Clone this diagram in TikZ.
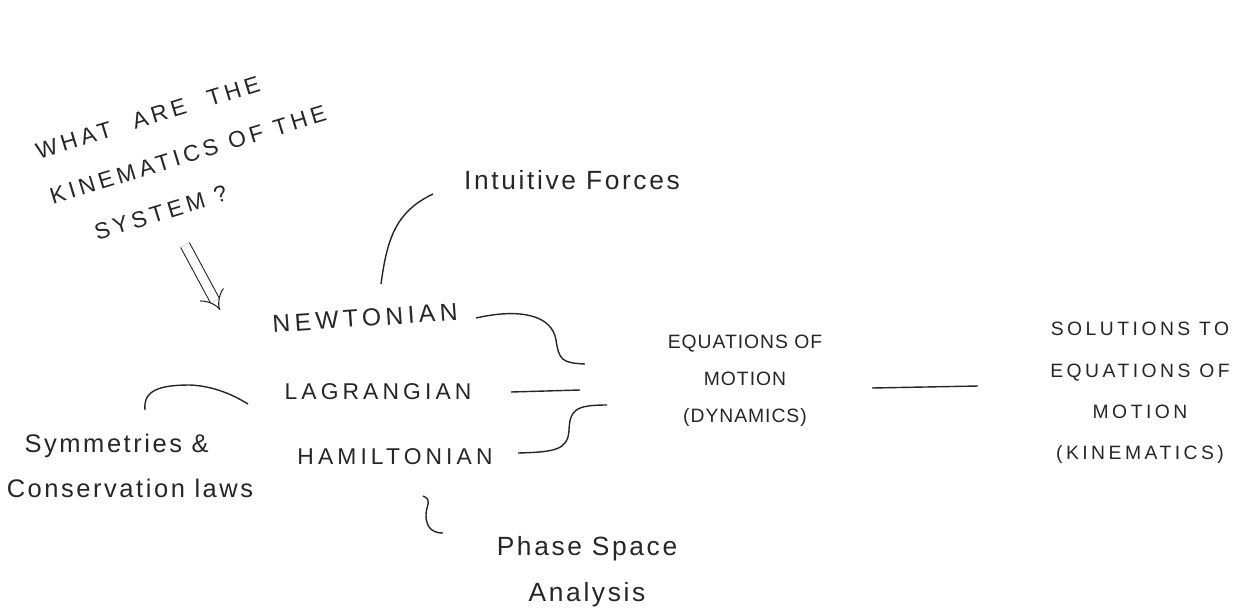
\documentclass[tikz,border=0pt]{standalone}
\usepackage{fontspec}
\setmainfont{Liberation Sans}
\newfontfamily\capsfont[LetterSpace=18]{Liberation Sans}
\newfontfamily\eqfont[LetterSpace=5]{Liberation Sans}
\newfontfamily\handfont[LetterSpace=10]{Liberation Sans}
\usetikzlibrary{arrows.meta}
\tikzset{%
  q/.style = {font=\capsfont\fontsize{13}{27}\selectfont, rotate=17,
        align=left, inner sep=1pt, text=black!85},
  m/.style = {font=\capsfont\fontsize{13}{15}\selectfont,
        inner sep=1pt, text=black!85},
  s/.style = {font=\eqfont\fontsize{11}{21}\selectfont, align=center,
        inner sep=1pt, text=black!85},
  h/.style = {font=\handfont\fontsize{15}{26}\selectfont,
        inner sep=1pt, text=black!85},
  link/.style = {line width=0.8pt, draw=black!85},
  impl/.style = {double, double distance=5pt, line width=0.6pt,
        draw=black!85, -{Implies[scale=1.4]}}
}
\begin{document}
\begin{tikzpicture}[x=0.02cm,y=-0.02cm]
    \useasboundingbox (0,0) rectangle (1252,609);
    % question
    \node[q] (q) at (188,155)
        {WHAT\hspace{1em}ARE\hspace{1em}THE\\KINEMATICS\hspace{0.5em}OF\hspace{0.5em}THE\\\hspace*{1.4em}SYSTEM ?};
    \coordinate (qa) at (185,245);
    \coordinate (qb) at (220,310);
    \draw[impl] (qa) -- (qb);
    % formulations
    \node[m, rotate=4, font=\capsfont\fontsize{14}{15}\selectfont] (newt)
        at (365,318) {NEWTONIAN};
    \node[m] (lagr) at (378,392) {LAGRANGIAN};
    \node[m] (hamil) at (395,457) {HAMILTONIAN};
    \node[s] (eom) at (745,381) {EQUATIONS OF\\MOTION\\(DYNAMICS)};
    \node[s, font=\capsfont\fontsize{11}{23.5}\selectfont] (sol) at (1140,393)
        {SOLUTIONS TO\\EQUATIONS OF\\MOTION\\(KINEMATICS)};
    % side notes
    \node[h] (forces) at (572,180) {Intuitive Forces};
    \node[h, align=left, font=\handfont\fontsize{14.5}{26}\selectfont] (sym)
        at (130,466) {\hspace*{0.7em}Symmetries \&\\Conservation laws};
    \node[h, align=center] (phase) at (587,572) {Phase Space\\Analysis};
    % connectors
    \coordinate (f1) at (381,284);
    \coordinate (f2) at (433,194);
    \draw[link] (f1) .. controls (387,240) and (395,212) .. (f2);
    \coordinate (n1) at (476,318);
    \coordinate (n2) at (585,364);
    \draw[link] (n1) .. controls (520,308) and (552,315) .. (556,340)
        .. controls (559,360) and (562,363) .. (n2);
    \coordinate (l1) at (511,392);
    \coordinate (l2) at (580,390);
    \draw[link] (l1) -- (l2);
    \coordinate (h1) at (518,453);
    \coordinate (h2) at (607,405);
    \draw[link] (h1) .. controls (555,452) and (568,450) .. (569,430)
        .. controls (570,410) and (575,405) .. (h2);
    \coordinate (e1) at (872,388);
    \coordinate (e2) at (978,386);
    \draw[link] (e1) -- (e2);
    \coordinate (y1) at (145,410);
    \coordinate (y2) at (248,404);
    \draw[link] (y1) .. controls (143,390) and (160,385) .. (190,385)
        .. controls (215,386) and (235,396) .. (y2);
    \coordinate (p1) at (423,496);
    \coordinate (p2) at (443,533);
    \draw[link] (p1) .. controls (433,500) and (426,505) .. (426,515)
        .. controls (426,530) and (435,533) .. (p2);
\end{tikzpicture}
\end{document}
